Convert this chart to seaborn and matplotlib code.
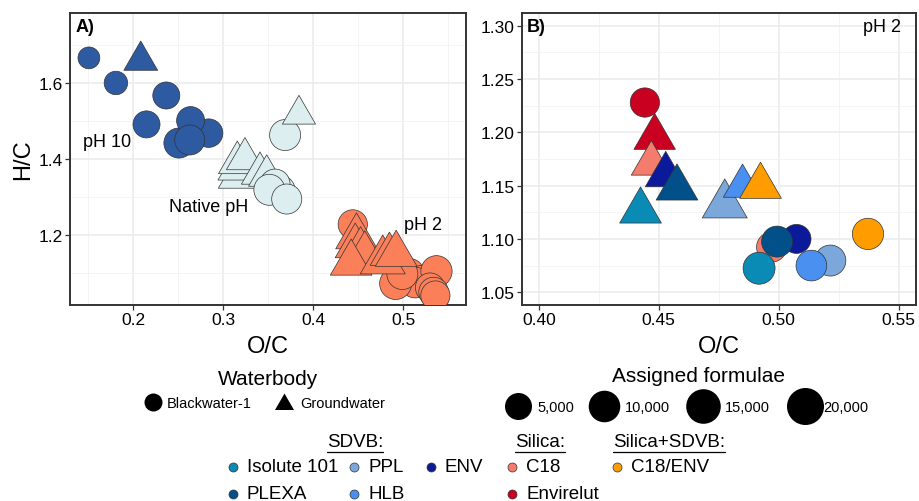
import numpy as np
import pandas as pd
import matplotlib
matplotlib.use("Agg")
import matplotlib.pyplot as plt
import seaborn as sns
from matplotlib.path import Path
from matplotlib.lines import Line2D
from matplotlib.ticker import MultipleLocator

# ---------------- data ----------------
# Panel B: pH 2 extracts, coloured by sorbent
b_sorbent = ["Envirelut", "C18", "ENV", "PPL", "HLB", "Isolute 101", "PLEXA", "C18/ENV",
             "Envirelut", "C18", "ENV", "PLEXA", "Isolute 101", "PPL", "HLB", "C18/ENV"]
b_water = ["Blackwater-1"] * 8 + ["Groundwater"] * 8
b_oc = [0.4442, 0.4970, 0.5074, 0.5215, 0.5136, 0.4918, 0.4993, 0.5372,
        0.4483, 0.4469, 0.4529, 0.4576, 0.4424, 0.4775, 0.4849, 0.4924]
b_hc = [1.228, 1.0923, 1.100, 1.0797, 1.075, 1.0725, 1.0975, 1.1047,
        1.1953, 1.1707, 1.160, 1.1478, 1.1262, 1.1319, 1.1495, 1.1494]
b_formulae = [7100, 8000, 6800, 9200, 8800, 10600, 9200, 9600,
              9000, 7600, 8400, 9200, 9200, 12900, 6300, 9200]

# Panel A: all extracts, coloured by pH
a_ph = ["pH 10"] * 9 + ["Native pH"] * 12 + ["pH 2"] * 3
a_water = (["Groundwater"] + ["Blackwater-1"] * 8 +
           ["Groundwater"] * 6 + ["Blackwater-1"] * 5 + ["Groundwater"] +
           ["Blackwater-1"] * 3)
a_oc = [0.2086, 0.151, 0.181, 0.237, 0.215, 0.251, 0.284, 0.264, 0.263,
        0.3159, 0.3159, 0.3159, 0.3244, 0.3411, 0.3486,
        0.3633, 0.3578, 0.3515, 0.3708, 0.369, 0.3844,
        0.530, 0.534, 0.536]
a_hc = [1.659, 1.666, 1.600, 1.567, 1.491, 1.442, 1.468, 1.501, 1.450,
        1.352, 1.374, 1.390, 1.400, 1.362, 1.356,
        1.317, 1.334, 1.319, 1.2947, 1.463, 1.517,
        1.062, 1.050, 1.041]
a_formulae = [3800, 3000, 3200, 5000, 5000, 8000, 6300, 5800, 8000,
              6000, 6500, 5800, 5500, 5500, 5000,
              8500, 8000, 9200, 8000, 9200, 3600,
              7000, 7500, 7000]

ph_levels = ["pH 10", "Native pH", "pH 2"]
ph_colors = ["#2D5AA0", "#DCEEEF", "#FB7F59"]
sorbents = ["Isolute 101", "PLEXA", "PPL", "HLB", "ENV", "C18", "Envirelut", "C18/ENV"]
sorbent_colors = ["#0A8BB5", "#02508A", "#7BA7DA", "#4A90F0", "#0A1A9A",
                  "#F47C6C", "#CA0020", "#FF9D00"]
size_breaks = [5000, 10000, 15000, 20000]
size_labels = ["5,000", "10,000", "15,000", "20,000"]

# ---------------- tables ----------------
dfB = pd.DataFrame({"sorbent": b_sorbent, "water": b_water, "oc": b_oc,
                    "hc": b_hc, "n": b_formulae})
dfB2 = dfB.assign(ph="pH 2")
dfA = pd.DataFrame({"ph": a_ph, "water": a_water, "oc": a_oc, "hc": a_hc,
                    "n": a_formulae})
dfA = pd.concat([dfA.iloc[:21], dfB2[["ph", "water", "oc", "hc", "n"]], dfA.iloc[21:]],
                ignore_index=True)

# ---------------- style ----------------
W, H, DPI = 919, 502, 100
sns.set_theme(style="white")
plt.rcParams["font.family"] = ["Liberation Sans", "DejaVu Sans"]
plt.rcParams["axes.unicode_minus"] = False
plt.rcParams["text.color"] = "black"
plt.rcParams["axes.labelcolor"] = "black"

TRI0 = 1.5551
TRI1 = 1.3468
TRI2 = 0.7776
circ = Path.unit_circle()
circle_marker = Path(np.vstack([[0, -TRI0], circ.vertices]),
                     np.concatenate([[Path.MOVETO], circ.codes]))
tri_marker = Path([[0, TRI0], [TRI1, -TRI2], [-TRI1, -TRI2], [0, TRI0]],
                  [Path.MOVETO, Path.LINETO, Path.LINETO, Path.CLOSEPOLY])
markers = {"Blackwater-1": circle_marker, "Groundwater": tri_marker}


def diam_px(n):
    return 21.8 + 0.1167 * np.sqrt(max(n - 3000, 0))


def s_of(n):
    return (diam_px(n) * 72 / DPI * TRI0) ** 2


fig = plt.figure(figsize=(W / DPI, H / DPI), dpi=DPI)


def box(l, t, r, b):
    return [l / W, 1 - b / H, (r - l) / W, (b - t) / H]


axA = fig.add_axes(box(70, 14, 466, 306))
axB = fig.add_axes(box(522, 14, 916, 306))

edge = "#333333"
sizesA = {v: s_of(v) for v in dfA["n"].unique()}
sizesB = {v: s_of(v) for v in dfB["n"].unique()}

sns.scatterplot(data=dfA, x="oc", y="hc", hue="ph", style="water", size="n",
                hue_order=ph_levels, palette=dict(zip(ph_levels, ph_colors)),
                markers=markers, sizes=sizesA, edgecolor=edge, linewidth=0.5,
                legend=False, ax=axA, zorder=3)
sns.scatterplot(data=dfB, x="oc", y="hc", hue="sorbent", style="water", size="n",
                hue_order=sorbents, palette=dict(zip(sorbents, sorbent_colors)),
                markers=markers, sizes=sizesB, edgecolor=edge, linewidth=0.5,
                legend=False, ax=axB, zorder=3)

axA.set_xlim(0.13, 0.57)
axA.set_ylim(1.016, 1.784)
axA.set_xticks([0.2, 0.3, 0.4, 0.5])
axA.set_yticks([1.2, 1.4, 1.6])
axA.xaxis.set_minor_locator(MultipleLocator(0.05))
axA.yaxis.set_minor_locator(MultipleLocator(0.1))
axB.set_xlim(0.393, 0.5572)
axB.set_ylim(1.038, 1.312)
axB.set_xticks([0.40, 0.45, 0.50, 0.55])
axB.set_xticklabels(["0.40", "0.45", "0.50", "0.55"])
axB.set_yticks([1.05, 1.10, 1.15, 1.20, 1.25, 1.30])
axB.set_yticklabels(["1.05", "1.10", "1.15", "1.20", "1.25", "1.30"])
axB.xaxis.set_minor_locator(MultipleLocator(0.025))
axB.yaxis.set_minor_locator(MultipleLocator(0.025))

for ax in (axA, axB):
    ax.set_axisbelow(True)
    ax.grid(which="major", color="#EBEBEB", lw=1.1)
    ax.grid(which="minor", color="#F2F2F2", lw=0.6)
    for sp in ax.spines.values():
        sp.set_color(edge)
        sp.set_linewidth(1.4)
    ax.tick_params(which="major", length=3.6, width=0.9, color=edge,
                   labelsize=12.5, labelcolor="black", pad=1.5, bottom=True, left=True)
    ax.tick_params(which="minor", length=0)
    ax.set_xlabel("O/C", fontsize=17, va="center", color="black")
    ax.xaxis.set_label_coords(0.5, -0.140)

axA.set_ylabel("H/C", fontsize=17, va="center", ha="center", color="black")
axA.yaxis.set_label_coords(-0.118, 0.5)
axB.set_ylabel("")


def fx(px):
    return px / W


def fy(py):
    return 1 - py / H


# panel annotations
fig.text(fx(76), fy(28), "A)", fontsize=13, weight="bold", ha="left", va="center")
fig.text(fx(107), fy(143), "pH 10", fontsize=13, ha="center", va="center")
fig.text(fx(209), fy(208), "Native pH", fontsize=13, ha="center", va="center")
fig.text(fx(423), fy(225), "pH 2", fontsize=13, ha="center", va="center")
fig.text(fx(527), fy(28), "B)", fontsize=13, weight="bold", ha="left", va="center")
fig.text(fx(901), fy(28), "pH 2", fontsize=13, ha="right", va="center")

# ---------------- legends ----------------
lax = fig.add_axes([0, 0, 1, 1])
lax.set_xlim(0, W)
lax.set_ylim(H, 0)
lax.axis("off")

# Waterbody
fig.text(fx(268), fy(380), "Waterbody", fontsize=15, ha="center", va="center")
lax.scatter([153], [403], s=(18 * 0.72 * TRI0) ** 2, marker=circle_marker,
            color="black", linewidth=0)
fig.text(fx(167), fy(404), "Blackwater-1", fontsize=10.5, ha="left", va="center")
lax.scatter([284], [405], s=(19 * 0.72 / 0.866) ** 2, marker=tri_marker,
            color="black", linewidth=0)
fig.text(fx(300), fy(404), "Groundwater", fontsize=10.5, ha="left", va="center")

# Assigned formulae
fig.text(fx(698), fy(377), "Assigned formulae", fontsize=15, ha="center", va="center")
key_x = [518, 604, 703, 805]
lab_x = [537, 625, 725, 823]
for kx, lx, br, lb in zip(key_x, lab_x, size_breaks, size_labels):
    lax.scatter([kx], [407], s=s_of(br), marker=circle_marker, color="black",
                linewidth=0)
    fig.text(fx(lx), fy(408), lb, fontsize=10.5, ha="left", va="center")

# Sorbent legend
titles = [("SDVB:", 327), ("Silica:", 515), ("Silica+SDVB:", 613)]
title_objs = []
for t, x in titles:
    title_objs.append(fig.text(fx(x), fy(443), t, fontsize=13.5, ha="left", va="center"))

entries = [("Isolute 101", 233, 468), ("PPL", 354, 468), ("ENV", 431, 468),
           ("PLEXA", 233, 495), ("HLB", 354, 495),
           ("C18", 512, 468), ("Envirelut", 512, 495), ("C18/ENV", 617, 468)]
cmap = dict(zip(sorbents, sorbent_colors))
for name, x, y in entries:
    lax.scatter([x], [y], s=(9 * 0.72 * TRI0) ** 2, marker=circle_marker,
                color=cmap[name], edgecolor=edge, linewidth=0.5)
    fig.text(fx(x + 14), fy(y), name, fontsize=13.5, ha="left", va="center")

fig.canvas.draw()
r = fig.canvas.get_renderer()
for t in title_objs:
    bb = t.get_window_extent(r)
    yy = bb.y0 - 1
    fig.add_artist(Line2D([bb.x0 / W, bb.x1 / W], [yy / H, yy / H],
                          color="black", lw=0.9, transform=fig.transFigure))

fig.savefig("out.png", dpi=DPI)
